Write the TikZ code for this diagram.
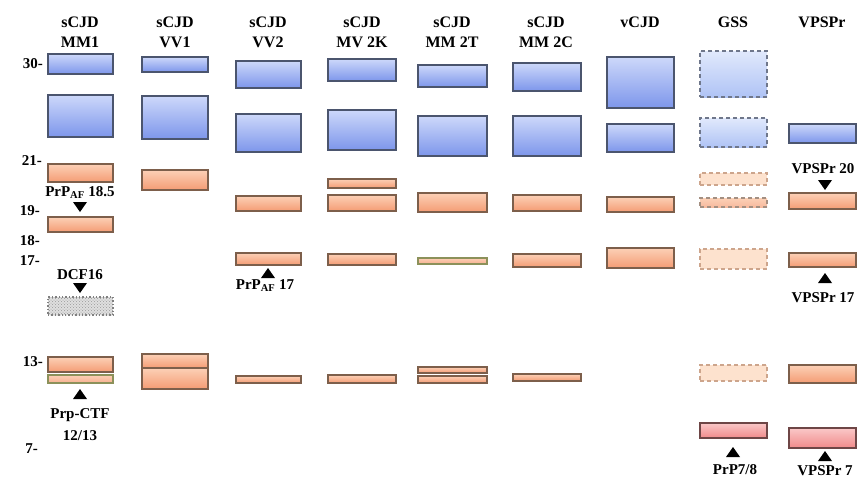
\documentclass[tikz,border=0pt]{standalone}
\usepackage{fontspec}
\setmainfont{Liberation Serif}
\usetikzlibrary{patterns}
\definecolor{bTop}{RGB}{205,216,250}
\definecolor{bBot}{RGB}{125,150,235}
\definecolor{bDr}{RGB}{75,85,110}
\definecolor{oTop}{RGB}{252,208,182}
\definecolor{oBot}{RGB}{244,156,116}
\definecolor{oDr}{RGB}{125,95,75}
\definecolor{pTop}{RGB}{250,200,200}
\definecolor{pBot}{RGB}{240,138,138}
\definecolor{pDr}{RGB}{110,70,70}
\definecolor{gDr}{RGB}{140,145,90}
\definecolor{lbTop}{RGB}{225,233,252}
\definecolor{lbBot}{RGB}{175,195,245}
\definecolor{loFill}{RGB}{253,226,206}
\definecolor{loDr}{RGB}{205,165,140}
\newcommand\mybox[6]{\node[#2, minimum width={(#5-#3)*1pt}, minimum height={(#6-#4)*1pt}] (#1) at (#3,#4) {};}
\begin{document}
\begin{tikzpicture}[x=1pt,y=-1pt,
  box/.style={rectangle, inner sep=0pt, outer sep=0pt, line width=1.4pt, anchor=north west},
  bluebox/.style={box, draw=bDr, top color=bTop, bottom color=bBot},
  orgbox/.style={box, draw=oDr, top color=oTop, bottom color=oBot},
  greenbox/.style={box, draw=gDr, top color=oTop, bottom color=oBot!80!white},
  pinkbox/.style={box, draw=pDr, top color=pTop, bottom color=pBot},
  gssblue/.style={box, draw=bDr!80, dash pattern=on 4pt off 3pt, top color=lbTop, bottom color=lbBot},
  gssorg/.style={box, draw=loDr, dash pattern=on 4pt off 3pt, fill=loFill},
  gssorgmid/.style={box, draw=oDr!70, dash pattern=on 4pt off 3pt, top color=oTop, bottom color=oBot!70!white},
  dcfbox/.style={box, draw=gray, dotted, preaction={fill=gray!25}, pattern=crosshatch dots, pattern color=gray!80},
  hdr/.style={font=\fontsize{16}{19}\selectfont\bfseries, anchor=base, inner sep=0pt},
  ann/.style={font=\fontsize{15}{18}\selectfont\bfseries, anchor=base, inner sep=0pt},
  ylab/.style={font=\fontsize{15}{17}\selectfont\bfseries, anchor=east, inner sep=0pt},
  dnarr/.pic={\fill (-7,-5) -- (7,-5) -- (0,5) -- cycle;},
  uparr/.pic={\fill (-7,5) -- (7,5) -- (0,-5) -- cycle;}
]
\useasboundingbox (0,0) rectangle (862,483);
\fill[white] (0,0) rectangle (862,483);

% headers
\node[hdr] (h1a) at (80,27) {sCJD};   \node[hdr] (h1b) at (80,47) {MM1};
\node[hdr] (h2a) at (175,27) {sCJD};  \node[hdr] (h2b) at (175,47) {VV1};
\node[hdr] (h3a) at (268,27) {sCJD};  \node[hdr] (h3b) at (268,47) {VV2};
\node[hdr] (h4a) at (362,27) {sCJD};  \node[hdr] (h4b) at (362,47) {MV 2K};
\node[hdr] (h5a) at (452,27) {sCJD};  \node[hdr] (h5b) at (452,47) {MM 2T};
\node[hdr] (h6a) at (546,27) {sCJD};  \node[hdr] (h6b) at (546,47) {MM 2C};
\node[hdr] (h7) at (640,27) {vCJD};
\node[hdr] (h8) at (733,27) {GSS};
\node[hdr] (h9) at (822,27) {VPSPr};

% y labels
\node[ylab] (y30) at (43,64) {30-};
\node[ylab] (y21) at (42,161) {21-};
\node[ylab] (y19) at (40,211) {19-};
\node[ylab] (y18) at (40,241) {18-};
\node[ylab] (y17) at (40,261) {17-};
\node[ylab] (y13) at (43,362) {13-};
\node[ylab] (y7) at (38,449) {7-};

% column 1
\mybox{c1a}{bluebox}{48}{54}{113}{74}
\mybox{c1b}{bluebox}{48}{95}{113}{137}
\mybox{c1c}{orgbox}{48}{164}{113}{182}
\mybox{c1d}{orgbox}{48}{217}{113}{232}
\mybox{c1e}{dcfbox}{48}{297}{113}{315}
\mybox{c1f}{orgbox}{48}{357}{113}{372}
\mybox{c1g}{greenbox}{48}{375}{113}{383}
% column 2
\mybox{c2a}{bluebox}{142}{57}{208}{72}
\mybox{c2b}{bluebox}{142}{96}{208}{139}
\mybox{c2c}{orgbox}{142}{170}{208}{190}
\mybox{c2d}{orgbox}{142}{354}{208}{368}
\mybox{c2e}{orgbox}{142}{368}{208}{389}
% column 3
\mybox{c3a}{bluebox}{236}{61}{301}{88}
\mybox{c3b}{bluebox}{236}{114}{301}{152}
\mybox{c3c}{orgbox}{236}{196}{301}{211}
\mybox{c3d}{orgbox}{236}{253}{301}{265}
\mybox{c3e}{orgbox}{236}{376}{301}{383}
% column 4
\mybox{c4a}{bluebox}{328}{59}{396}{81}
\mybox{c4b}{bluebox}{328}{110}{396}{150}
\mybox{c4c}{orgbox}{328}{179}{396}{188}
\mybox{c4d}{orgbox}{328}{195}{396}{211}
\mybox{c4e}{orgbox}{328}{254}{396}{265}
\mybox{c4f}{orgbox}{328}{375}{396}{383}
% column 5
\mybox{c5a}{bluebox}{418}{65}{487}{87}
\mybox{c5b}{bluebox}{418}{116}{487}{156}
\mybox{c5c}{orgbox}{418}{193}{487}{212}
\mybox{c5d}{greenbox}{418}{258}{487}{264}
\mybox{c5e}{orgbox}{418}{367}{487}{373}
\mybox{c5f}{orgbox}{418}{376}{487}{383}
% column 6
\mybox{c6a}{bluebox}{513}{63}{581}{91}
\mybox{c6b}{bluebox}{513}{116}{581}{156}
\mybox{c6c}{orgbox}{513}{195}{581}{211}
\mybox{c6d}{orgbox}{513}{254}{581}{267}
\mybox{c6e}{orgbox}{513}{374}{581}{381}
% column 7
\mybox{c7a}{bluebox}{607}{57}{674}{108}
\mybox{c7b}{bluebox}{607}{124}{674}{152}
\mybox{c7c}{orgbox}{607}{197}{674}{212}
\mybox{c7d}{orgbox}{607}{248}{674}{268}
% column 8
\mybox{c8a}{gssblue}{700}{51}{767}{97}
\mybox{c8b}{gssblue}{700}{118}{767}{147}
\mybox{c8c}{gssorg}{700}{173}{767}{185}
\mybox{c8d}{gssorgmid}{700}{198}{767}{207}
\mybox{c8e}{gssorg}{700}{249}{767}{269}
\mybox{c8f}{gssorg}{700}{365}{767}{381}
\mybox{c8g}{pinkbox}{700}{423}{767}{438}
% column 9
\mybox{c9a}{bluebox}{789}{124}{856}{143}
\mybox{c9b}{orgbox}{789}{193}{856}{209}
\mybox{c9c}{orgbox}{789}{253}{856}{267}
\mybox{c9d}{orgbox}{789}{365}{856}{383}
\mybox{c9e}{pinkbox}{789}{428}{856}{448}

% annotations
\node[ann] (a1) at (80,196) {PrP\textsubscript{AF} 18.5};
\pic at (80,207) {dnarr};
\node[ann] (a2) at (80,279) {DCF16};
\pic at (80,288) {dnarr};
\pic at (268,273) {uparr};
\node[ann] (a3) at (265,289) {PrP\textsubscript{AF} 17};
\pic at (80,394) {uparr};
\node[ann] (a4) at (80,418) {Prp-CTF};
\node[ann] (a5) at (80,440) {12/13};
\node[ann] (a6) at (823,173) {VPSPr 20};
\pic at (825,185) {dnarr};
\pic at (825,278) {uparr};
\node[ann] (a7) at (823,302) {VPSPr 17};
\pic at (733,452) {uparr};
\node[ann] (a8) at (735,474) {PrP7/8};
\pic at (825,456) {uparr};
\node[ann] (a9) at (825,475) {VPSPr 7};
\end{tikzpicture}
\end{document}
